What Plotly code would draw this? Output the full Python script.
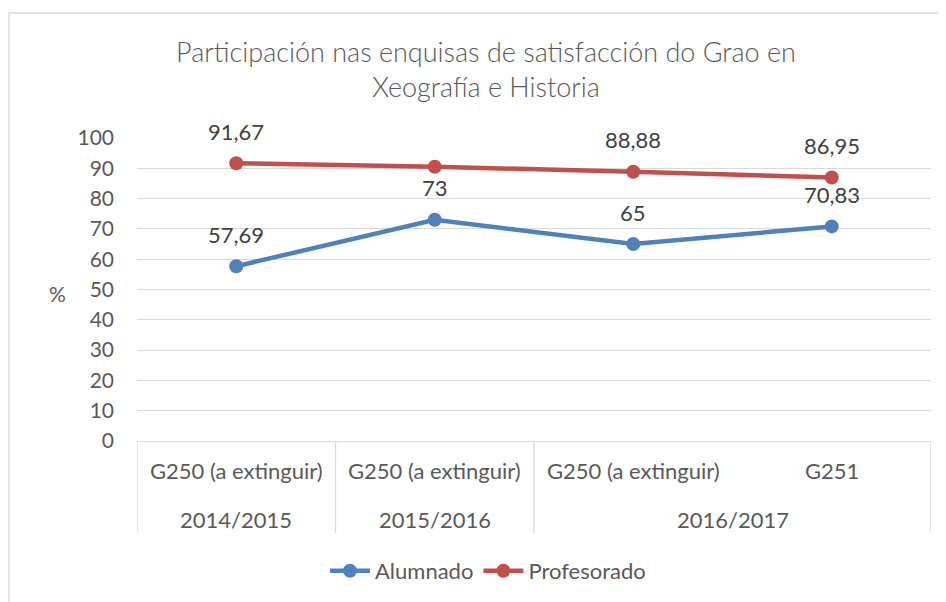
import plotly.graph_objects as go

groups = ["G250 (a extinguir)", "G250 (a extinguir)", "G250 (a extinguir)", "G251"]
years = ["2014/2015", "2015/2016", "2016/2017", "2016/2017"]
alumnado = [57.69, 73, 65, 70.83]
profesorado = [91.67, 90.5, 88.88, 86.95]
prof_labels = ["91,67", None, "88,88", "86,95"]
alum_labels = ["57,69", "73", "65", "70,83"]
yticks = [0, 10, 20, 30, 40, 50, 60, 70, 80, 90, 100]

FONT = "Lato"
GREY = "#595959"
BLUE = "#4f81bd"
RED = "#c0504d"

W, H = 946, 602
L, R, T, B = 129, 23, 130, 169
PW, PH = W - L - R, H - T - B

xs = list(range(len(groups)))

fig = go.Figure()
fig.add_trace(go.Scatter(x=xs, y=alumnado, mode="lines+markers", name="Alumnado",
                         line=dict(color=BLUE, width=4.5), marker=dict(size=14, color=BLUE),
                         cliponaxis=False))
fig.add_trace(go.Scatter(x=xs, y=profesorado, mode="lines+markers", name="Profesorado",
                         line=dict(color=RED, width=4.5), marker=dict(size=14, color=RED),
                         cliponaxis=False))

ann = []
for x, y, t in zip(xs, alumnado, alum_labels):
    if t:
        ann.append(dict(x=x, y=y, text=t, showarrow=False, yshift=32, xref="x", yref="y",
                        font=dict(family=FONT, size=22, color="#404040")))
for x, y, t in zip(xs, profesorado, prof_labels):
    if t:
        ann.append(dict(x=x, y=y, text=t, showarrow=False, yshift=32, xref="x", yref="y",
                        font=dict(family=FONT, size=22, color="#404040")))

# inner category labels
for x, g in zip(xs, groups):
    ann.append(dict(x=x, y=0, xref="x", yref="y", text=g, showarrow=False, yshift=-29,
                    font=dict(family=FONT, size=22, color=GREY)))

# outer (year) labels, centered on their groups
shapes = []
uniq = []
for i, yr in enumerate(years):
    if not uniq or uniq[-1][0] != yr:
        uniq.append([yr, i, i])
    else:
        uniq[-1][2] = i
DIV = -(92 / PH)
for yr, a, b in uniq:
    ann.append(dict(x=(a + b) / 2, y=0, xref="x", yref="y", text=yr, showarrow=False, yshift=-78,
                    font=dict(family=FONT, size=22, color=GREY)))
    shapes.append(dict(type="line", xref="x", yref="paper", x0=a - 0.5, x1=a - 0.5, y0=0, y1=DIV,
                       line=dict(color="#d9d9d9", width=1.3)))
shapes.append(dict(type="line", xref="x", yref="paper", x0=len(xs) - 0.5, x1=len(xs) - 0.5,
                   y0=0, y1=DIV, line=dict(color="#d9d9d9", width=1.3)))

# chart frame
shapes.append(dict(type="rect", xref="paper", yref="paper", x0=(1 - L) / PW, x1=1.2,
                   y0=(H - B - 5) / PH, y1=-1, line=dict(color="#d9d9d9", width=1.3), layer="below"))

ann.append(dict(x=(49 - L) / PW, y=(H - B - 285) / PH, xref="paper", yref="paper", text="%",
                xanchor="center", yanchor="middle",
                showarrow=False, font=dict(family=FONT, size=21, color=GREY)))

fig.update_layout(
    width=W, height=H,
    margin=dict(l=L, r=R, t=T, b=B),
    paper_bgcolor="white", plot_bgcolor="white",
    title=dict(text="Participación nas enquisas de satisfacción do Grao en<br>Xeografía e Historia",
               x=478 / W, xanchor="center", y=1 - 53.5 / H, yanchor="middle",
               font=dict(family=FONT, size=27, color=GREY, weight=300)),
    xaxis=dict(range=[-0.5, len(xs) - 0.5], showticklabels=False, showgrid=False, zeroline=False,
               showline=True, linecolor="#d9d9d9", linewidth=1.3, fixedrange=True),
    yaxis=dict(range=[0, 100], tickvals=yticks, showgrid=True, gridcolor="#d9d9d9", gridwidth=1.3,
               zeroline=False, ticks="", ticklabelstandoff=22,
               tickfont=dict(family=FONT, size=21, color=GREY)),
    legend=dict(orientation="h", x=480 / W, xref="container", xanchor="center",
                y=1 - 563 / H, yref="container", yanchor="middle",
                font=dict(family=FONT, size=22, color=GREY), itemwidth=40),
    annotations=ann, shapes=shapes, showlegend=True,
)

fig.write_html("out.html")
